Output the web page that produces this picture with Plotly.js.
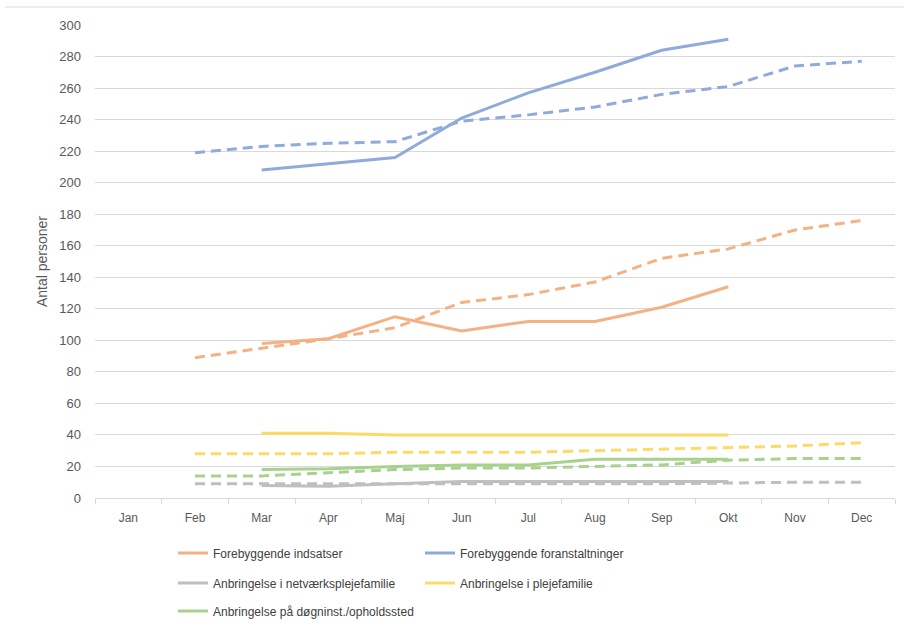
<!DOCTYPE html>
<html>
<head>
<meta charset="utf-8">
<script src="https://cdn.plot.ly/plotly-3.0.1.min.js"></script>
<style>html,body{margin:0;padding:0;background:#fff;}#chart{width:904px;height:632px;}</style>
</head>
<body>
<div id="chart"></div>
<script>
const months = ["Jan","Feb","Mar","Apr","Maj","Jun","Jul","Aug","Sep","Okt","Nov","Dec"];
const actualMonths = ["Mar","Apr","Maj","Jun","Jul","Aug","Sep","Okt"];
const forecastMonths = ["Feb","Mar","Apr","Maj","Jun","Jul","Aug","Sep","Okt","Nov","Dec"];

const names = ["Forebyggende indsatser","Forebyggende foranstaltninger","Anbringelse i netværksplejefamilie","Anbringelse i plejefamilie","Anbringelse på døgninst./opholdssted"];
const colors = ["#F4B183","#8FAADC","#BFBFBF","#FFD966","#A9D18E"];

const indsatserActual = [98,101,115,106,112,112,121,134];
const foranstaltActual = [208,212,216,241,257,270,284,291];
const netvaerkActual = [8,7.5,9,10.5,10.5,10.5,10.5,10.5];
const plejeActual = [41,41,40,40,40,40,40,40];
const doegnActual = [18,18.5,20,21,21,24.5,24.5,24.5];

const indsatserForecast = [89,95,101,108,124,129,137,152,158,170,176];
const foranstaltForecast = [219,223,225,226,239,243,248,256,261,274,277];
const netvaerkForecast = [9,9,9,9,9,9,9,9,9.5,10,10];
const plejeForecast = [28,28,28,29,29,29,30,31,32,33,35];
const doegnForecast = [14,14,16,18,19,19,20,21,24,25,25];

const actuals = [indsatserActual,foranstaltActual,netvaerkActual,plejeActual,doegnActual];
const forecasts = [indsatserForecast,foranstaltForecast,netvaerkForecast,plejeForecast,doegnForecast];
const legendIds = ["legend","legend","legend2","legend2","legend3"];

const traces = [];
for (let i = 0; i < names.length; i++) {
  traces.push({
    x: forecastMonths, y: forecasts[i], type: "scatter", mode: "lines",
    line: {color: colors[i], width: 3, dash: "10px,6px"},
    showlegend: false, hoverinfo: "y"
  });
}
for (let i = 0; i < names.length; i++) {
  traces.push({
    x: actualMonths, y: actuals[i], type: "scatter", mode: "lines", name: names[i],
    line: {color: colors[i], width: 3},
    legend: legendIds[i]
  });
}

const legFont = {family: "Liberation Sans Narrow, Liberation Sans, sans-serif", size: 12, color: "#404040"};
const legBase = {orientation: "h", xref: "paper", yref: "paper", xanchor: "left", yanchor: "middle",
  entrywidth: 202, entrywidthmode: "pixels", font: legFont, bgcolor: "rgba(0,0,0,0)", itemwidth: 30, traceorder: "normal"};

const layout = {
  width: 904, height: 632,
  margin: {l: 95, r: 9, t: 25, b: 134, autoexpand: false},
  paper_bgcolor: "#fff", plot_bgcolor: "#fff",
  font: {family: "Liberation Sans, sans-serif", color: "#595959", size: 12},
  xaxis: {
    type: "category", categoryorder: "array", categoryarray: months, range: [-0.5, 11.5],
    showgrid: false, showline: true, linecolor: "#d9d9d9", linewidth: 1,
    ticks: "outside", tickson: "boundaries", ticklen: 5, tickcolor: "#d9d9d9",
    ticklabelstandoff: 9,
    tickfont: {size: 12, color: "#595959"}, fixedrange: true, automargin: false
  },
  yaxis: {
    range: [0, 300], dtick: 20, tick0: 0,
    showgrid: true, gridcolor: "#d9d9d9", gridwidth: 1, zeroline: false,
    showline: false, ticks: "", ticklen: 0, ticklabelstandoff: 13,
    tickfont: {size: 13, color: "#595959"},
    title: {text: "Antal personer", font: {size: 14, color: "#595959"}, standoff: 8},
    fixedrange: true, automargin: false
  },
  legend: Object.assign({}, legBase, {x: 0.0975, y: -0.1163}),
  legend2: Object.assign({}, legBase, {x: 0.0975, y: -0.1797}),
  legend3: Object.assign({}, legBase, {x: 0.0975, y: -0.2389}),
  shapes: [
    {type: "line", xref: "paper", yref: "paper", x0: -0.112, x1: 1.011, y0: 1.038, y1: 1.038,
     line: {color: "#d9d9d9", width: 1}}
  ],
  showlegend: true
};

Plotly.newPlot("chart", traces, layout, {displayModeBar: false, staticPlot: true});
</script>
</body>
</html>
